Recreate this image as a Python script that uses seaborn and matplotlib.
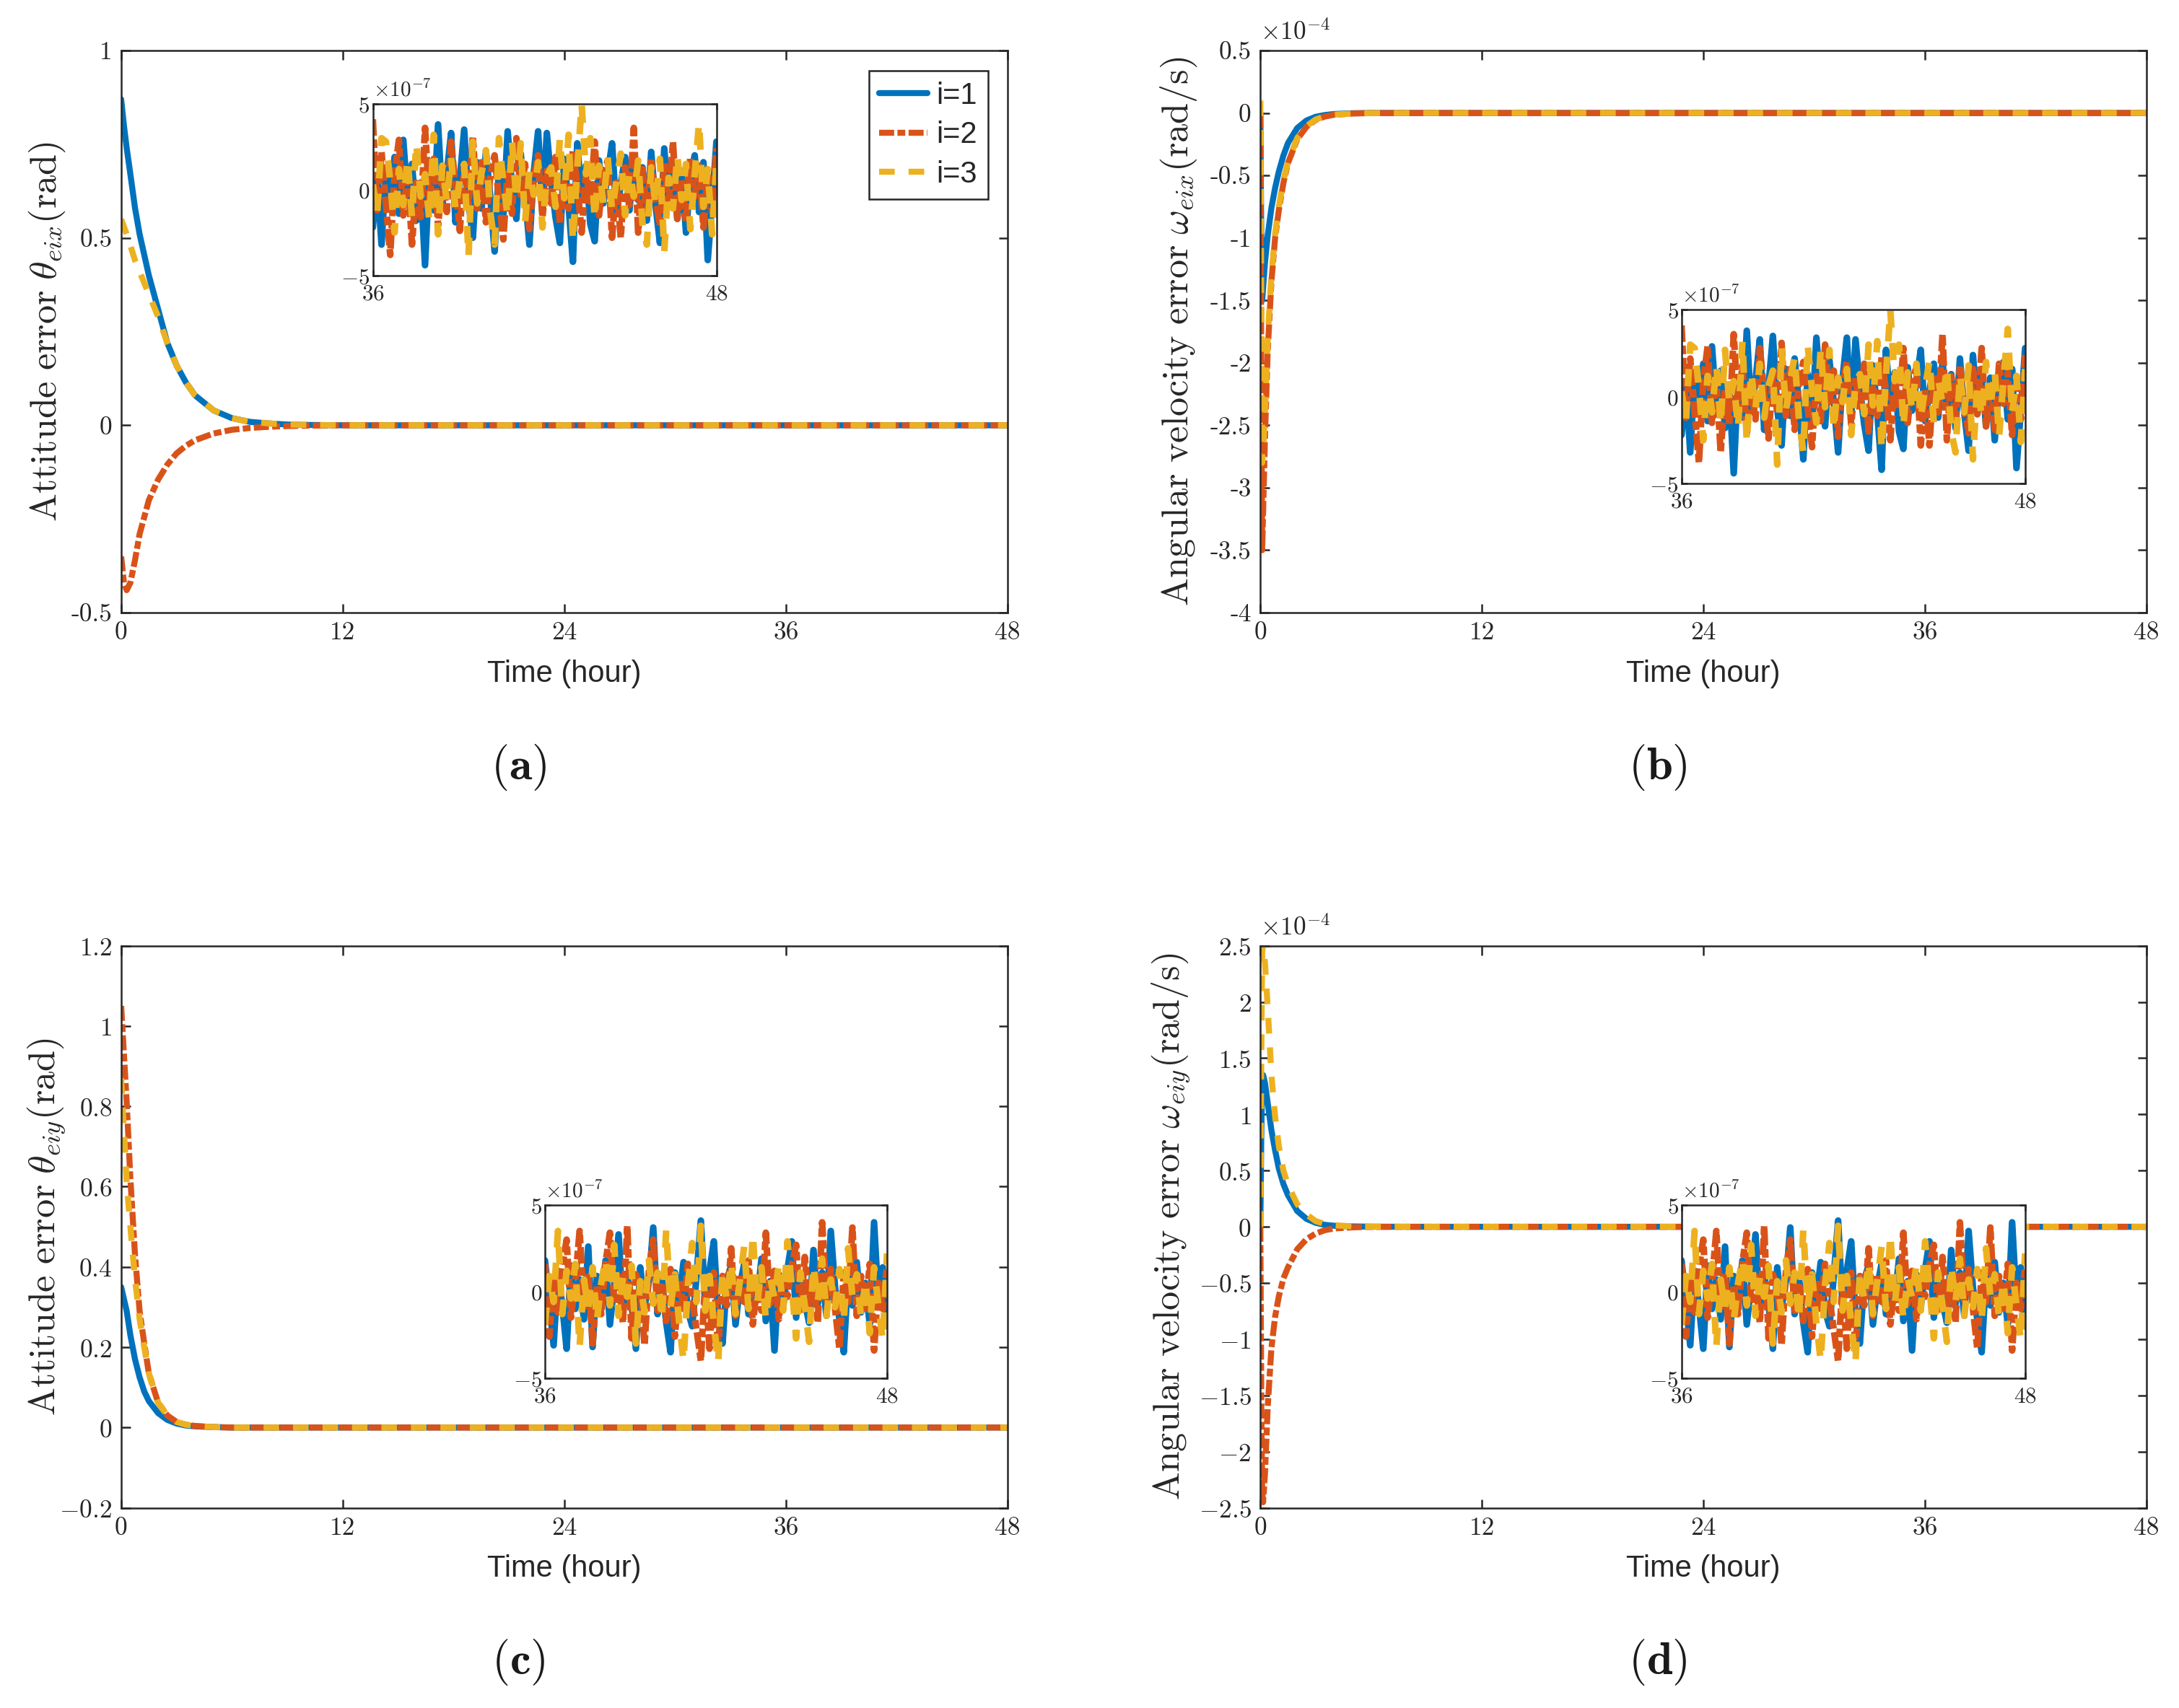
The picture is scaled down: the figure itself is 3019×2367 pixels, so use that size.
import numpy as np
import matplotlib
matplotlib.use("Agg")
import matplotlib.pyplot as plt
import seaborn as sns

# ---- main curves ----
# (a) attitude error theta_eix (rad)
t_a = [0, 0.15, 0.3, 0.5, 0.75, 1.0, 1.5, 2.0, 2.5, 3.0, 3.5, 4.0, 5.0, 6.0, 7.0, 8.0, 9.0, 10.0, 12.0, 48.0]
a_i1 = [0.87, 0.80, 0.74, 0.67, 0.58, 0.51, 0.40, 0.31, 0.22, 0.16, 0.115, 0.08, 0.04, 0.019, 0.009, 0.005, 0.002, 0.001, 0.0, 0.0]
a_i2 = [-0.35, -0.42, -0.44, -0.42, -0.36, -0.29, -0.20, -0.145, -0.105, -0.075, -0.055, -0.04, -0.022, -0.012, -0.007, -0.004, -0.002, -0.001, 0.0, 0.0]
a_i3 = [0.55, 0.53, 0.51, 0.48, 0.44, 0.41, 0.35, 0.29, 0.22, 0.16, 0.115, 0.08, 0.04, 0.019, 0.009, 0.005, 0.002, 0.001, 0.0, 0.0]

# (b) angular velocity error omega_eix (x1e-4 rad/s)
t_b = [0, 0.05, 0.1, 0.15, 0.25, 0.4, 0.6, 0.8, 1.0, 1.25, 1.5, 2.0, 2.5, 3.0, 3.5, 4.0, 5.0, 6.0, 8.0, 48.0]
b_i1 = [0.0, -1.0, -1.5, -1.4, -1.2, -0.98, -0.76, -0.6, -0.47, -0.34, -0.24, -0.12, -0.06, -0.03, -0.016, -0.008, -0.002, 0.0, 0.0, 0.0]
b_i2 = [0.0, -2.0, -3.5, -3.2, -2.6, -1.9, -1.35, -1.0, -0.78, -0.56, -0.40, -0.21, -0.11, -0.055, -0.028, -0.014, -0.004, -0.001, 0.0, 0.0]
b_i3 = [0.1, -1.5, -2.8, -2.7, -2.4, -1.8, -1.3, -0.97, -0.75, -0.54, -0.39, -0.2, -0.105, -0.052, -0.026, -0.013, -0.004, -0.001, 0.0, 0.0]

# (c) attitude error theta_eiy (rad)
t_c = [0, 0.15, 0.3, 0.5, 0.75, 1.0, 1.25, 1.5, 2.0, 2.5, 3.0, 3.5, 4.0, 5.0, 6.0, 8.0, 48.0]
c_i1 = [0.35, 0.32, 0.29, 0.23, 0.17, 0.125, 0.09, 0.066, 0.036, 0.019, 0.010, 0.005, 0.003, 0.001, 0.0, 0.0, 0.0]
c_i2 = [1.05, 0.93, 0.81, 0.62, 0.43, 0.29, 0.21, 0.135, 0.062, 0.03, 0.014, 0.007, 0.004, 0.001, 0.0, 0.0, 0.0]
c_i3 = [0.87, 0.74, 0.61, 0.50, 0.37, 0.27, 0.20, 0.135, 0.062, 0.03, 0.014, 0.007, 0.004, 0.001, 0.0, 0.0, 0.0]

# (d) angular velocity error omega_eiy (x1e-4 rad/s)
t_d = [0, 0.05, 0.1, 0.15, 0.25, 0.4, 0.6, 0.8, 1.0, 1.25, 1.5, 2.0, 2.5, 3.0, 3.5, 4.0, 5.0, 6.0, 8.0, 48.0]
d_i1 = [0.0, 0.8, 1.3, 1.35, 1.28, 1.1, 0.86, 0.68, 0.52, 0.38, 0.28, 0.14, 0.07, 0.035, 0.017, 0.009, 0.003, 0.001, 0.0, 0.0]
d_i2 = [0.0, -1.5, -2.35, -2.45, -2.2, -1.6, -1.08, -0.8, -0.62, -0.46, -0.36, -0.2, -0.11, -0.06, -0.03, -0.015, -0.005, -0.001, 0.0, 0.0]
d_i3 = [0.0, 1.5, 2.45, 2.5, 2.35, 1.95, 1.35, 0.98, 0.72, 0.5, 0.37, 0.2, 0.11, 0.05, 0.025, 0.013, 0.004, 0.001, 0.0, 0.0]

# ---- steady-state residuals 36..48 h (x1e-7), insets ----
# set 1 -> insets of (a) and (b), set 2 -> insets of (c) and (d)
n1_i1 = [-2.2, 0.8, -3.2, 1.2, -0.9, 1.9, -1.4, 2.9, -0.6, 1.5, -1.8, 0.4, -4.4, 1.1, -1.2, 3.8,
         -0.8, 0.9, 3.3, -1.9, 0.6, 3.5, -0.7, -2.8, 1.6, -1.1, 2.2, -0.4, -3.6, 1.3, -1.5, 3.4,
         0.2, -1.7, 2.1, -0.3, -3.2, 1.0, 3.4, -1.3, 3.3, 0.5, -1.6, -3.1, 1.8, -0.9, -4.2, 2.7,
         -0.5, 1.4, -2.0, -3.0, 1.7, -0.8, 0.9, 2.7, -1.4, 0.3, 1.9, -1.2, 2.0, -0.6, 1.3, -1.8,
         2.2, -0.9, -3.1, 2.4, -1.0, 1.5, -1.7, 1.1, -2.5, 0.7, 2.0, -1.3, 1.6, -4.1, -0.8, 2.8]
n1_i2 = [4.1, -1.2, 2.2, -0.8, -3.8, 0.9, 2.9, -1.5, 1.1, -3.2, 0.4, -1.6, 3.6, -0.7, 1.8, -2.1,
         0.6, -1.3, 2.8, 0.2, -2.4, 1.4, -0.9, 3.1, -1.1, 1.6, -1.9, 0.8, 2.0, -0.6, -2.9, 1.2,
         -1.4, 3.0, -0.3, 1.5, -2.3, 0.7, 2.0, -1.6, 1.1, -0.8, 1.9, -2.0, 0.5, -1.1, 2.3, 0.3,
         -2.5, 1.0, -0.7, 2.8, -1.5, 0.9, 1.7, -2.8, 0.4, -2.8, 1.3, -0.9, 3.6, -2.5, 1.2, -1.4,
         1.8, -0.5, -2.1, 1.6, -1.0, 2.8, -1.7, 0.6, -1.9, 1.9, -0.4, 1.4, -2.2, 0.8, -1.3, 2.4]
n1_i3 = [0.3, -1.4, 3.0, 2.8, 0.5, -2.5, 1.2, -0.9, 1.8, -1.6, 2.7, -0.4, 0.9, -1.8, 3.2, -2.6,
         1.4, -0.7, 1.9, -1.2, 0.6, 1.5, -3.9, 2.8, -0.8, 1.0, 2.3, -1.3, -3.2, 3.0, 0.4, -1.5,
         2.8, -0.6, 2.7, -1.9, 1.1, -0.3, 1.6, -2.2, 0.8, 1.3, -1.0, 3.0, -0.5, 3.2, -3.0, 1.2,
         5.0, 0.9, 3.0, -1.7, 1.4, -0.8, 1.9, -1.2, 0.5, 2.1, -1.5, 1.0, -0.4, 1.7, -2.0, -3.2,
         1.3, -0.9, 1.8, -3.6, 0.7, -1.1, 2.0, -0.6, 1.5, -2.3, 0.9, 3.9, -1.0, 1.2, -2.6, 1.6]
n2_i1 = [1.8, -0.6, -3.1, 1.2, -0.8, -3.3, 1.5, -1.0, 0.7, -1.6, 2.6, -3.2, 0.9, -0.5, 1.8, -1.9,
         0.4, 3.3, -1.2, 1.0, -0.7, -3.3, 1.4, -0.9, 0.6, 3.7, -1.3, 0.8, -1.8, -3.5, 1.1, -0.4,
         1.7, -1.1, -2.0, 0.9, 4.1, -0.8, 1.2, 2.9, -1.4, -3.0, 0.7, 1.5, -1.9, 0.3, 1.6, -1.3,
         0.8, -0.5, 1.9, -1.7, 0.6, -3.4, 1.0, -0.9, 1.3, 2.9, -1.5, 1.0, -0.6, -1.8, 2.4, -0.7,
         1.1, -1.4, 3.5, 0.2, -1.6, -3.5, 0.9, -0.8, 1.7, -1.2, 0.5, -1.9, 4.0, -0.6, 1.4, -2.0]
n2_i2 = [1.6, -2.6, 0.8, -1.2, 1.4, 3.0, -1.5, 0.6, 3.5, -0.9, 1.1, -3.0, 0.4, -1.3, 1.7, 3.4,
         -0.7, 0.9, -1.8, 3.8, -2.7, 1.0, 0.3, -3.1, 1.2, 3.0, -1.1, 0.5, -1.7, 1.3, -2.6, 0.7,
         -1.0, 1.6, -0.4, -2.2, -4.0, 0.6, -3.3, 1.1, -3.4, 0.9, -0.8, 2.5, -1.4, 1.0, -0.6, 1.8,
         -1.9, 0.4, -1.1, 3.4, -0.7, 1.2, -1.6, 0.8, -0.3, 1.5, 2.7, -1.3, 2.0, -0.9, 0.6, -1.8,
         4.0, -0.5, 1.3, -1.0, -3.3, 1.1, -0.6, 3.7, -1.4, 0.9, -1.2, 1.6, -3.4, 0.5, -1.0, 1.5]
n2_i3 = [-1.9, 0.9, -0.6, 3.5, -1.3, 1.2, -0.4, 1.6, -3.2, 0.7, -1.0, 1.4, -1.7, 0.5, 1.9, -0.8,
         2.7, -1.4, 0.8, -0.3, 1.5, -3.0, 0.6, -1.2, 1.8, -0.7, 1.1, -1.6, 3.6, -0.9, 1.0, -1.8,
         -4.0, 0.4, 2.8, -0.6, 3.8, -1.1, 0.9, -1.9, -4.1, 1.2, -0.5, 1.7, -1.3, 0.6, 2.6, -1.0,
         3.3, -0.7, 1.4, -1.6, 0.8, -0.4, 1.6, -1.1, 2.9, 0.3, -2.7, 1.1, -0.8, -2.9, 1.5, -0.6,
         1.9, -1.4, 0.7, -0.9, 1.3, -1.7, 2.5, -0.3, 1.0, -1.5, 0.6, -2.4, 1.4, -0.8, -2.8, 2.2]
t_noise = np.linspace(36, 48, len(n1_i1))

legend_labels = ["i=1", "i=2", "i=3"]
colors = ["#0072BD", "#D95319", "#EDB120"]
styles = ["-", (0, (2.5, 0.55, 1.3, 0.55)), (0, (2.6, 2.3))]
LW = 2.0
DARK = "#262626"

sns.set_style("ticks", {"xtick.direction": "in", "ytick.direction": "in"})
plt.rcParams["mathtext.fontset"] = "cm"
plt.rcParams["font.family"] = ["DejaVu Sans"]
plt.rcParams["axes.edgecolor"] = DARK
plt.rcParams["axes.linewidth"] = 0.6


def draw_series(ax, t, series, lw=LW):
    for y, c, ls in zip(series, colors, styles):
        sns.lineplot(x=t, y=y, ax=ax, color=c, linestyle=ls, linewidth=lw,
                     sort=False, legend=False)


def tick_text(vals, hyphen):
    # (a),(b) print a plain hyphen, (c),(d) a math minus
    if hyphen:
        return [f"{v:g}" for v in vals], "cmr10"
    return [f"${v:g}$" for v in vals], None


def style_axis(ax, yticks, ylim, ylabel, hyphen, label_x):
    ax.set_xlim(0, 48)
    ax.set_ylim(*ylim)
    ax.set_xticks([0, 12, 24, 36, 48])
    ax.set_xticklabels(["0", "12", "24", "36", "48"], fontfamily="cmr10", fontsize=8.5)
    ax.set_yticks(yticks)
    labels, fam = tick_text(yticks, hyphen)
    if fam:
        ax.set_yticklabels(labels, fontfamily=fam, fontsize=8.5)
    else:
        ax.set_yticklabels(labels, fontsize=8.5)
    ax.tick_params(which="both", direction="in", top=True, right=True, length=3,
                   width=0.6, color=DARK, labelcolor=DARK, pad=3)
    ax.set_xlabel("Time (hour)", fontsize=10, color=DARK,
                  fontfamily=["Liberation Sans Narrow", "Liberation Sans"])
    ax.xaxis.label.set_va("center")
    ax.xaxis.set_label_coords(0.5, -0.109)
    ax.set_ylabel(ylabel, fontsize=12.5, color=DARK)
    ax.yaxis.label.set_va("center")
    ax.yaxis.set_label_coords(label_x, 0.5)
    ax.grid(False)


def add_inset(fig, rect, series):
    ax = fig.add_axes(rect)
    ax.set_facecolor("white")
    draw_series(ax, t_noise, series, lw=2.2)
    ax.set_xlim(36, 48)
    ax.set_ylim(-5, 5)
    ax.set_xticks([36, 48])
    ax.set_xticklabels(["$36$", "$48$"], fontsize=7.5)
    ax.set_yticks([-5, 0, 5])
    ax.set_yticklabels(["$-5$", "$0$", "$5$"], fontsize=7.5)
    ax.tick_params(axis="y", direction="in", right=True, length=2, width=0.6,
                   color=DARK, labelcolor=DARK, pad=1)
    ax.tick_params(axis="x", direction="in", top=True, length=2, width=0.6,
                   color=DARK, labelcolor=DARK, pad=2.5)
    ax.text(0.0, 1.02, r"$\times10^{-7}$", transform=ax.transAxes,
            ha="left", va="bottom", fontsize=7, color=DARK)
    return ax


fig = plt.figure(figsize=(3019 / 300, 2367 / 300), dpi=300)
W, H = 0.4067, 0.3291
ax_a = fig.add_axes([0.0556, 0.6413, W, H])
ax_b = fig.add_axes([0.5784, 0.6413, W, H])
ax_c = fig.add_axes([0.0556, 0.1172, W, H])
ax_d = fig.add_axes([0.5784, 0.1172, W, H])

draw_series(ax_a, t_a, [a_i1, a_i2, a_i3])
style_axis(ax_a, [-0.5, 0, 0.5, 1], (-0.5, 1),
           r"$\mathrm{Attitude\ error}\ \theta_{eix}(\mathrm{rad})$", True, -0.084)
ax_a.legend(ax_a.lines[:3], legend_labels, loc="upper right", bbox_to_anchor=(0.978, 0.964),
            borderaxespad=0, frameon=True, fancybox=False, edgecolor=DARK,
            framealpha=1, handlelength=1.6, handletextpad=0.3, labelspacing=0.35,
            borderpad=0.35, prop={"family": "Liberation Sans", "size": 10})
ax_a.get_legend().get_frame().set_linewidth(0.6)

draw_series(ax_b, t_b, [b_i1, b_i2, b_i3])
style_axis(ax_b, [-4, -3.5, -3, -2.5, -2, -1.5, -1, -0.5, 0, 0.5], (-4, 0.5),
           r"$\mathrm{Angular\ velocity\ error}\ \omega_{eix}(\mathrm{rad/s})$", True, -0.092)
ax_b.text(0.0, 1.01, r"$\times10^{-4}$", transform=ax_b.transAxes, ha="left", va="bottom",
          fontsize=8.5, color=DARK)

draw_series(ax_c, t_c, [c_i1, c_i2, c_i3])
style_axis(ax_c, [-0.2, 0, 0.2, 0.4, 0.6, 0.8, 1, 1.2], (-0.2, 1.2),
           r"$\mathrm{Attitude\ error}\ \theta_{eiy}(\mathrm{rad})$", False, -0.084)

draw_series(ax_d, t_d, [d_i1, d_i2, d_i3])
style_axis(ax_d, [-2.5, -2, -1.5, -1, -0.5, 0, 0.5, 1, 1.5, 2, 2.5], (-2.5, 2.5),
           r"$\mathrm{Angular\ velocity\ error}\ \omega_{eiy}(\mathrm{rad/s})$", False, -0.1)
ax_d.text(0.0, 1.01, r"$\times10^{-4}$", transform=ax_d.transAxes, ha="left", va="bottom",
          fontsize=8.5, color=DARK)

add_inset(fig, [0.1711, 0.8387, 0.1577, 0.1005], [n1_i1, n1_i2, n1_i3])
add_inset(fig, [0.7717, 0.7168, 0.1577, 0.1018], [n1_i1, n1_i2, n1_i3])
add_inset(fig, [0.2501, 0.1931, 0.1570, 0.1014], [n2_i1, n2_i2, n2_i3])
add_inset(fig, [0.7717, 0.1931, 0.1577, 0.1014], [n2_i1, n2_i2, n2_i3])

for lab, x, y in [("a", 0.2379, 0.5508), ("b", 0.7608, 0.5508),
                  ("c", 0.2379, 0.0269), ("d", 0.7608, 0.0269)]:
    fig.text(x, y, r"$(\mathbf{" + lab + r"})$", ha="center", va="center",
             fontsize=15.5, color="#1a1a1a")

fig.savefig("out.png", dpi=300, facecolor="white")
